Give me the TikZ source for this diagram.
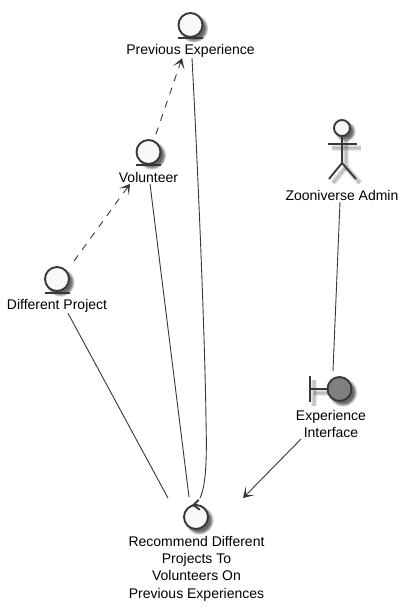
\documentclass[tikz,border=0pt]{standalone}
\usepackage{fontspec}
\setmainfont{Liberation Sans}
\usetikzlibrary{arrows.meta,calc}
\definecolor{ink}{HTML}{383838}
\definecolor{pale}{HTML}{F8F8F8}
\definecolor{midgray}{HTML}{808080}
\tikzset{
  lbl/.style={inner sep=0pt,align=center,font=\fontsize{14}{17.4}\selectfont,text=black},
  icon/.style={circle,draw=ink,line width=1.9pt,fill=pale,minimum size=24pt,inner sep=0pt},
  iconline/.style={draw=ink,line width=1.9pt},
  conn/.style={draw=ink,line width=0.9pt},
  dep/.style={conn,dash pattern=on 7pt off 7pt,-{Stealth[length=10pt,width=12pt,inset=5.5pt,line width=1.1pt]}},
  assoc/.style={conn,-{Stealth[length=10pt,width=12pt,inset=5.5pt,line width=1.1pt]}},
  shad/.style={black,opacity=0.2}
}
\newcommand{\softdisc}[3]{%
  \foreach \k in {-1,0,1,2}{\fill[shad] (#1+3.5,#2+3.5) circle ({#3+1-\k});}}
\newcommand{\softbar}[4]{%
  \foreach \k in {2,4,6}{\draw[black,line width=\k pt,opacity=0.09] (#1+4,#2+4) -- (#3+4,#4+4);}}
\begin{document}
\begin{tikzpicture}[x=1pt,y=-1pt]
\useasboundingbox (0,0) rectangle (409,611);
\fill[white] (0,0) rectangle (409,611);
% shadows
\softdisc{190.5}{25}{12}
\softdisc{148.5}{152}{12}
\softdisc{57}{279}{12}
\softdisc{342}{128}{8}
\softdisc{339.5}{389}{12}
\softdisc{196}{517}{12}
\softbar{328}{144}{357}{144}
\softbar{342}{136}{342}{163}
\softbar{342}{163}{329}{179}
\softbar{342}{163}{356}{179}
\softbar{310}{376}{310}{402}
\softbar{310}{389}{327}{389}
% entities
\node[icon] (pe) at (190.5,25) {};
\draw[iconline] (178,38) -- (203,38);
\node[lbl] (pelabel) at (190.5,50.5) {Previous Experience};
\node[icon] (vol) at (148.5,152) {};
\draw[iconline] (136,165) -- (161,165);
\node[lbl] (vollabel) at (148.5,177.5) {Volunteer};
\node[icon] (dp) at (57,279) {};
\draw[iconline] (44.5,293) -- (69.5,293);
\node[lbl] (dplabel) at (57,305.5) {Different Project};
% actor
\node[icon,minimum size=16pt] (admin) at (342,128) {};
\draw[iconline] (admin.south) -- (342,163) -- (329,179);
\draw[iconline] (342,163) -- (356,179);
\draw[iconline] (328,144) -- (357,144);
\node[lbl] (adminlabel) at (342,195.5) {Zooniverse Admin};
% boundary
\node[icon,fill=midgray] (exp) at (339.5,389) {};
\draw[iconline] (310,376) -- (310,402);
\draw[iconline] (310,389) -- (exp.west);
\node[lbl] (explabel) at (331,424) {Experience\\Interface};
% control
\node[icon] (ctl) at (196,517) {};
\draw[ink,line width=1.9pt,line cap=round] (198.5,500) -- (193.5,505) -- (199.5,509.5);
\node[lbl] (ctllabel) at (196.5,568.5) {Recommend Different\\Projects To\\Volunteers On\\Previous Experiences};
% connectors
\draw[dep] ($(vol.north)+(7.5,-5)$) -- ($(pelabel.south)+(-8.5,1)$);
\draw[dep] ($(dp.north)+(17,-5)$) -- ($(vollabel.south)+(-18.5,1)$);
\draw[conn] ($(pelabel.south)+(1.5,1)$) .. controls (198,170) and (205,340) .. (206,420) .. controls (207,460) and (206,485) .. ($(ctl.north)+(4,-6)$);
\draw[conn] ($(vollabel.south)+(1.5,1)$) -- ($(ctl.north)+(-7,-7)$);
\draw[conn] ($(dplabel.south)+(11,1)$) -- ($(ctl.north)+(-28,-6)$);
\draw[conn] ($(adminlabel.south)+(-2,1)$) -- ($(exp.north)+(-6.5,-5)$);
\draw[assoc] ($(explabel.south)+(-30,1)$) -- ($(ctl.north)+(47,-6)$);
\end{tikzpicture}
\end{document}
